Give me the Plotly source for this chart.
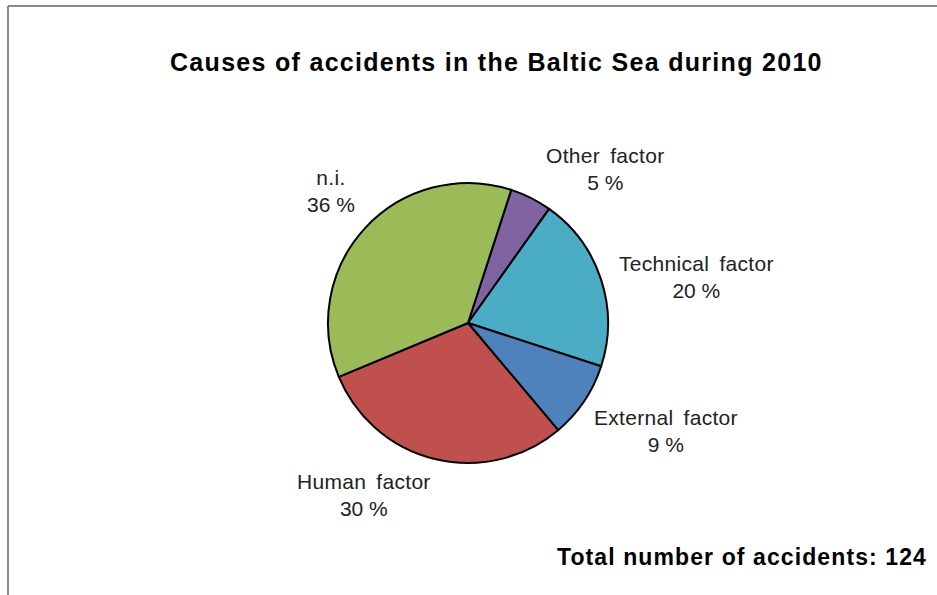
import plotly.graph_objects as go

# Data (number of accidents, total 124)
categories = ["Other factor", "Technical factor", "External factor", "Human factor", "n.i."]
counts = [6, 25, 11, 37, 45]
percent_labels = ["5 %", "20 %", "9 %", "30 %", "36 %"]
colors = ["#8064A2", "#4BACC6", "#4F81BD", "#C0504D", "#9BBB59"]
total = 124

W, H = 937, 595
# label centre positions in pixels (layout only)
label_pos = {
    "Other factor": (605, 169),
    "Technical factor": (696, 277),
    "External factor": (666, 431),
    "Human factor": (364, 495),
    "n.i.": (331, 191),
}

cx, cy, r = 468, 323, 140
FONT = "Liberation Sans, Arial, sans-serif"

fig = go.Figure()
fig.add_trace(go.Pie(
    labels=categories,
    values=counts,
    sort=False,
    direction="clockwise",
    rotation=18,
    marker=dict(colors=colors, line=dict(color="black", width=2)),
    textinfo="none",
    hoverinfo="label+percent",
    showlegend=False,
    domain=dict(x=[(cx - r) / W, (cx + r) / W], y=[(H - cy - r) / H, (H - cy + r) / H]),
))

label_font = dict(family=FONT, size=21, color="#222")
for cat, pct in zip(categories, percent_labels):
    px, py = label_pos[cat]
    fig.add_annotation(
        x=px / W, y=1 - py / H, xref="paper", yref="paper",
        text=f"<span style='word-spacing:4px;letter-spacing:0.3px'>{cat}</span><br>{pct}",
        showarrow=False,
        xanchor="center", yanchor="middle", align="center",
        font=label_font,
    )

fig.add_annotation(
    x=496 / W, y=1 - 62 / H, xref="paper", yref="paper",
    text="<span style='letter-spacing:1.3px'><b>Causes of accidents in the Baltic Sea during 2010</b></span>",
    showarrow=False, xanchor="center", yanchor="middle",
    font=dict(family=FONT, size=25, color="black"),
)
fig.add_annotation(
    x=929 / W, y=1 - 557 / H, xref="paper", yref="paper",
    text=f"<span style='letter-spacing:1.1px'><b>Total number of accidents: {total}</b></span>",
    showarrow=False, xanchor="right", yanchor="middle",
    font=dict(family=FONT, size=23, color="black"),
)

# frame lines (top and left)
fig.add_shape(type="line", xref="paper", yref="paper",
              x0=8 / W, x1=1, y0=1 - 6 / H, y1=1 - 6 / H,
              line=dict(color="#8a8a8a", width=2))
fig.add_shape(type="line", xref="paper", yref="paper",
              x0=8 / W, x1=8 / W, y0=0, y1=1 - 6 / H,
              line=dict(color="#8a8a8a", width=2))

fig.update_layout(
    width=W, height=H,
    margin=dict(l=0, r=0, t=0, b=0),
    paper_bgcolor="white", plot_bgcolor="white",
)

fig.write_html("out.html")
